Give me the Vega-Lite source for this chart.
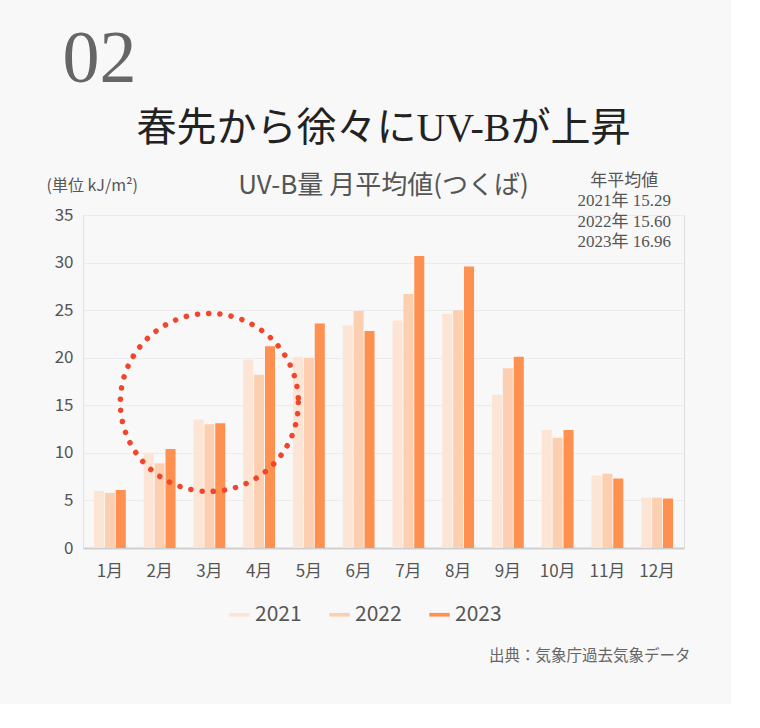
{
  "$schema": "https://vega.github.io/schema/vega-lite/v6.json",
  "background": "#f8f8f8",
  "padding": {"left": 45, "top": 22, "right": 40, "bottom": 40},
  "title": {
    "text": "02",
    "anchor": "start",
    "dx": 17,
    "offset": 11,
    "font": "Liberation Serif",
    "fontSize": 74,
    "fontWeight": "normal",
    "color": "#666666"
  },
  "datasets": {
    "uvb": [
      {"month": "1月", "year": "2021", "value": 6.0},
      {"month": "1月", "year": "2022", "value": 5.8},
      {"month": "1月", "year": "2023", "value": 6.1},
      {"month": "2月", "year": "2021", "value": 10.0},
      {"month": "2月", "year": "2022", "value": 8.9},
      {"month": "2月", "year": "2023", "value": 10.4},
      {"month": "3月", "year": "2021", "value": 13.5},
      {"month": "3月", "year": "2022", "value": 13.0},
      {"month": "3月", "year": "2023", "value": 13.1},
      {"month": "4月", "year": "2021", "value": 19.8},
      {"month": "4月", "year": "2022", "value": 18.2},
      {"month": "4月", "year": "2023", "value": 21.2},
      {"month": "5月", "year": "2021", "value": 20.1},
      {"month": "5月", "year": "2022", "value": 20.0},
      {"month": "5月", "year": "2023", "value": 23.6},
      {"month": "6月", "year": "2021", "value": 23.4},
      {"month": "6月", "year": "2022", "value": 24.9},
      {"month": "6月", "year": "2023", "value": 22.8},
      {"month": "7月", "year": "2021", "value": 23.9},
      {"month": "7月", "year": "2022", "value": 26.7},
      {"month": "7月", "year": "2023", "value": 30.7},
      {"month": "8月", "year": "2021", "value": 24.6},
      {"month": "8月", "year": "2022", "value": 25.0},
      {"month": "8月", "year": "2023", "value": 29.6},
      {"month": "9月", "year": "2021", "value": 16.1},
      {"month": "9月", "year": "2022", "value": 18.9},
      {"month": "9月", "year": "2023", "value": 20.1},
      {"month": "10月", "year": "2021", "value": 12.4},
      {"month": "10月", "year": "2022", "value": 11.6},
      {"month": "10月", "year": "2023", "value": 12.4},
      {"month": "11月", "year": "2021", "value": 7.6},
      {"month": "11月", "year": "2022", "value": 7.8},
      {"month": "11月", "year": "2023", "value": 7.3},
      {"month": "12月", "year": "2021", "value": 5.3},
      {"month": "12月", "year": "2022", "value": 5.3},
      {"month": "12月", "year": "2023", "value": 5.2}
    ],
    "annual": [
      {"key": "年平均値"},
      {"key": "2021", "avg": 15.29},
      {"key": "2022", "avg": 15.60},
      {"key": "2023", "avg": 16.96}
    ]
  },
  "vconcat": [
    {
      "width": 601,
      "height": 333,
      "title": {
        "text": "春先から徐々にUV-Bが上昇",
        "subtitle": "UV-B量 月平均値(つくば)",
        "anchor": "middle",
        "frame": "group",
        "offset": -27,
        "font": "Liberation Serif, Noto Sans CJK JP",
        "fontSize": 40,
        "fontWeight": "normal",
        "color": "#222222",
        "subtitleFont": "Noto Sans CJK JP",
        "subtitleFontSize": 26,
        "subtitleColor": "#555555",
        "subtitlePadding": 24
      },
      "layer": [
        {
          "data": {"name": "uvb"},
          "layer": [
            {
              "mark": {"type": "bar"},
              "encoding": {
                "x": {
                  "field": "month",
                  "type": "ordinal",
                  "sort": ["1月", "2月", "3月", "4月", "5月", "6月", "7月", "8月", "9月", "10月", "11月", "12月"],
                  "scale": {"paddingInner": 0.36, "paddingOuter": 0.22},
                  "axis": {
                    "title": "出典：気象庁過去気象データ",
                    "titleX": 607,
                    "titleY": 107,
                    "titleAlign": "right",
                    "titleBaseline": "middle",
                    "titleFont": "Noto Sans CJK JP",
                    "titleFontSize": 15.5,
                    "titleFontWeight": "normal",
                    "titleColor": "#666666",
                    "labelAngle": 0,
                    "labelFont": "Noto Sans CJK JP",
                    "labelFontSize": 17,
                    "labelColor": "#555555",
                    "labelPadding": 15,
                    "ticks": false,
                    "domainColor": "#cfcfcf",
                    "domainWidth": 2
                  }
                },
                "xOffset": {"field": "year", "type": "nominal", "scale": {"paddingInner": 0.08}},
                "y": {
                  "field": "value",
                  "type": "quantitative",
                  "scale": {"domain": [0, 35]},
                  "axis": {
                    "values": [0, 5, 10, 15, 20, 25, 30, 35],
                    "title": "(単位 kJ/m²)",
                    "titleAngle": 0,
                    "titleAlign": "left",
                    "titleBaseline": "middle",
                    "titleX": -37,
                    "titleY": -30,
                    "titleFont": "Noto Sans CJK JP",
                    "titleFontSize": 16,
                    "titleFontWeight": "normal",
                    "titleColor": "#555555",
                    "labelFont": "Noto Sans CJK JP",
                    "labelFontSize": 17,
                    "labelColor": "#555555",
                    "labelPadding": 10,
                    "ticks": false,
                    "domainColor": "#e2e2e2",
                    "gridColor": "#ececec"
                  }
                },
                "color": {
                  "field": "year",
                  "type": "nominal",
                  "scale": {"domain": ["2021", "2022", "2023"], "range": ["#fde5d6", "#fdcfb1", "#fe9150"]},
                  "legend": {
                    "title": null,
                    "orient": "none",
                    "direction": "horizontal",
                    "legendX": 146,
                    "legendY": 389,
                    "symbolType": "M-1,-0.18H1V0.18H-1Z",
                    "symbolSize": 420,
                    "symbolStrokeWidth": 0,
                    "symbolOpacity": 1,
                    "labelFont": "Noto Sans CJK JP",
                    "labelFontSize": 21,
                    "labelColor": "#555555",
                    "labelOffset": 5,
                    "columnPadding": 27
                  }
                }
              }
            },
            {
              "data": {"values": [{}]},
              "mark": {
                "type": "point",
                "shape": "circle",
                "size": 31700,
                "filled": false,
                "color": "#f2462c",
                "strokeWidth": 5.5,
                "strokeCap": "round",
                "strokeDash": [0.1, 11.2],
                "opacity": 1
              },
              "encoding": {
                "x": {"datum": "3月", "type": "ordinal"},
                "y": {"datum": 15.3, "type": "quantitative"}
              }
            }
          ]
        },
        {
          "data": {"name": "annual"},
          "transform": [
            {"calculate": "datum.avg == null ? datum.key : datum.key + '年  ' + format(datum.avg, '.2f')", "as": "label"}
          ],
          "mark": {
            "type": "text",
            "font": "Liberation Serif, Noto Sans CJK JP",
            "fontSize": 17,
            "color": "#555555",
            "dx": -33
          },
          "encoding": {
            "x": {"datum": "12月", "type": "ordinal"},
            "y": {
              "field": "key",
              "type": "ordinal",
              "sort": null,
              "axis": null,
              "scale": {"type": "point", "range": [-34, 27], "padding": 0}
            },
            "text": {"field": "label"}
          }
        }
      ],
      "resolve": {"scale": {"y": "independent"}}
    }
  ]
}
